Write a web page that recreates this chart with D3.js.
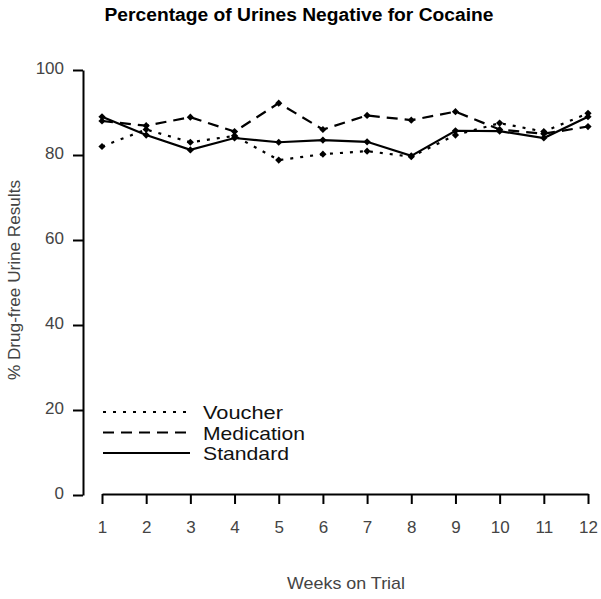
<!DOCTYPE html>
<html>
<head>
<meta charset="utf-8">
<script src="https://cdn.jsdelivr.net/npm/d3@7"></script>
<style>
  body { margin: 0; background: #fff; }
  text { font-family: "Liberation Sans", Arial, sans-serif; }
</style>
</head>
<body>
<svg id="chart" width="601" height="599"></svg>
<script>
// weeks and % drug-free values
const weeks = [1, 2, 3, 4, 5, 6, 7, 8, 9, 10, 11, 12];
const voucher = [82, 86, 83, 84.5, 78.8, 80.2, 80.9, 79.6, 84.7, 87.5, 85.5, 89.8];
const medication = [88, 86.9, 88.9, 85.5, 92.2, 86, 89.3, 88.2, 90.2, 86, 85, 86.7];
const standard = [89, 84.7, 81.2, 84, 83, 83.5, 83.1, 79.8, 85.7, 85.6, 84, 89];
const yTicks = [0, 20, 40, 60, 80, 100];
const seriesNames = ["Voucher", "Medication", "Standard"];

const dashes = ["3,7", "11,7", null];
const legendWidths = [80, 102, 86];
const series = seriesNames.map((name, i) => ({
  name, values: [voucher, medication, standard][i], dash: dashes[i], tw: legendWidths[i]
}));

const svg = d3.select("#chart");

const x = d3.scaleLinear().domain([1, 12]).range([102, 588]);
const y = d3.scaleLinear().domain([0, 100]).range([495, 70]);

// title
svg.append("text")
  .attr("x", 299).attr("y", 21)
  .attr("text-anchor", "middle")
  .attr("textLength", 389).attr("lengthAdjust", "spacingAndGlyphs")
  .style("font-weight", "bold").style("font-size", "18px")
  .text("Percentage of Urines Negative for Cocaine");

// y axis
const yAxis = svg.append("g")
  .attr("transform", "translate(83,0)")
  .call(d3.axisLeft(y).tickValues(yTicks).tickSize(10).tickSizeOuter(0).tickPadding(9));
yAxis.select(".domain").attr("stroke-width", 2);
yAxis.selectAll(".tick line").attr("stroke-width", 2);
yAxis.selectAll(".tick text").style("font-size", "17px").attr("fill", "#444").attr("dy", "0.2em");

// x axis
const xAxis = svg.append("g")
  .attr("transform", "translate(0,494)")
  .call(d3.axisBottom(x).tickValues(weeks).tickSize(10).tickSizeOuter(0).tickPadding(17));
xAxis.select(".domain").attr("stroke-width", 2);
xAxis.selectAll(".tick line").attr("stroke-width", 2);
xAxis.selectAll(".tick text").style("font-size", "17px").attr("fill", "#444");

// axis titles
svg.append("text")
  .attr("x", 346).attr("y", 589)
  .attr("text-anchor", "middle")
  .attr("textLength", 118).attr("lengthAdjust", "spacingAndGlyphs")
  .style("font-size", "17px").attr("fill", "#444")
  .text("Weeks on Trial");

svg.append("text")
  .attr("transform", "translate(20,280) rotate(-90)")
  .attr("text-anchor", "middle")
  .attr("textLength", 200).attr("lengthAdjust", "spacingAndGlyphs")
  .style("font-size", "17px").attr("fill", "#444")
  .text("% Drug-free Urine Results");

// lines
const line = d3.line()
  .x((d, i) => x(weeks[i]))
  .y(d => y(d));

series.forEach(s => {
  svg.append("path")
    .datum(s.values)
    .attr("d", line)
    .attr("fill", "none")
    .attr("stroke", "#000")
    .attr("stroke-width", 2.2)
    .attr("stroke-dasharray", s.dash);

  svg.selectAll(null)
    .data(s.values)
    .join("path")
    .attr("d", d3.symbol(d3.symbolSquare, 26))
    .attr("transform", (d, i) => `translate(${x(weeks[i])},${y(d)}) rotate(45)`)
    .attr("fill", "#000");
});

// legend
const legend = svg.append("g");
series.forEach((s, i) => {
  const ly = 412 + i * 20.5;
  legend.append("line")
    .attr("x1", 103).attr("x2", 190)
    .attr("y1", ly).attr("y2", ly)
    .attr("stroke", "#000")
    .attr("stroke-width", 2)
    .attr("stroke-dasharray", s.dash);
  legend.append("text")
    .attr("x", 203).attr("y", ly + 7)
    .attr("textLength", s.tw).attr("lengthAdjust", "spacingAndGlyphs")
    .style("font-size", "19px").attr("fill", "#111")
    .text(s.name);
});
</script>
</body>
</html>
